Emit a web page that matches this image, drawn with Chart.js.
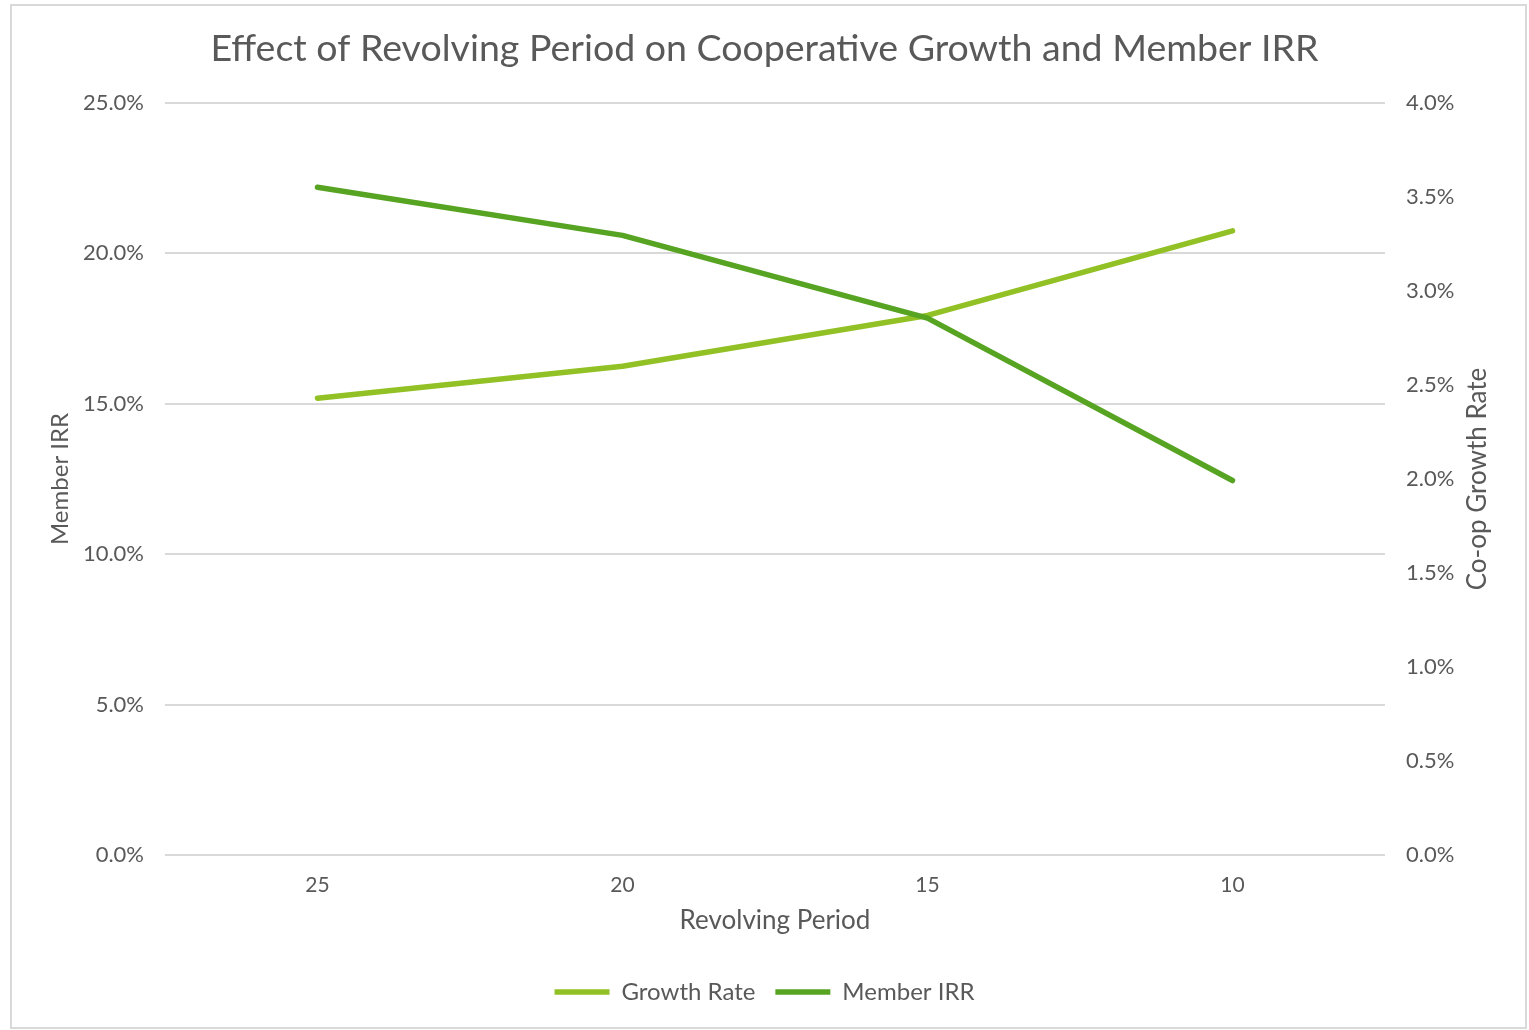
<!DOCTYPE html>
<html>
<head>
<meta charset="utf-8">
<script src="https://cdn.jsdelivr.net/npm/chart.js@4.4.0/dist/chart.umd.min.js"></script>
<style>
    html, body { margin: 0; padding: 0; background: #ffffff; }
    #wrap { width: 1529px; height: 1030px; }
</style>
</head>
<body>
<div id="wrap"><canvas id="chart" width="1529" height="1030"></canvas></div>
<script>
const periods = ['25', '20', '15', '10'];
const growthRate = [2.43, 2.60, 2.87, 3.32];
const memberIrr = [22.2, 20.6, 17.85, 12.45];

const textColor = '#595959';
const fontFamily = 'Lato, "Open Sans", sans-serif';

// frame round the chart + right axis title (reads bottom to top like the left one)
const framePlugin = {
    id: 'frame',
    beforeDraw(chart) {
        const ctx = chart.ctx;
        ctx.save();
        ctx.fillStyle = '#ffffff';
        ctx.fillRect(0, 0, chart.width, chart.height);
        ctx.strokeStyle = '#d9d9d9';
        ctx.lineWidth = 2;
        ctx.strokeRect(11, 5, 1515, 1023);
        ctx.restore();
    },
    afterDraw(chart) {
        const ctx = chart.ctx;
        const area = chart.chartArea;
        ctx.save();
        ctx.translate(1478, (area.top + area.bottom) / 2);
        ctx.rotate(-Math.PI / 2);
        ctx.fillStyle = textColor;
        ctx.font = '26px ' + fontFamily;
        ctx.textAlign = 'center';
        ctx.textBaseline = 'middle';
        ctx.fillText('Co-op Growth Rate', 0, 0);
        ctx.restore();
    }
};

const ctx = document.getElementById('chart').getContext('2d');
new Chart(ctx, {
    type: 'line',
    data: {
        labels: periods,
        datasets: [
            {
                label: 'Growth Rate',
                data: growthRate,
                yAxisID: 'y1',
                borderColor: '#92c125',
                backgroundColor: '#92c125',
                borderWidth: 5.5,
                borderCapStyle: 'round',
                borderJoinStyle: 'round',
                pointRadius: 0,
                tension: 0,
                order: 1
            },
            {
                label: 'Member IRR',
                data: memberIrr,
                yAxisID: 'y',
                borderColor: '#57a322',
                backgroundColor: '#57a322',
                borderWidth: 5.5,
                borderCapStyle: 'round',
                borderJoinStyle: 'round',
                pointRadius: 0,
                tension: 0,
                order: 0
            }
        ]
    },
    options: {
        responsive: false,
        animation: false,
        layout: {
            padding: { left: 0, right: 0, top: 0, bottom: 16 }
        },
        plugins: {
            title: {
                display: true,
                text: 'Effect of Revolving Period on Cooperative Growth and Member IRR',
                color: textColor,
                font: { family: fontFamily, size: 37.5, weight: 'normal' },
                padding: { top: 26, bottom: 32 }
            },
            legend: {
                display: true,
                position: 'bottom',
                labels: {
                    color: textColor,
                    font: { family: fontFamily, size: 24 },
                    usePointStyle: true,
                    pointStyle: 'line',
                    pointStyleWidth: 55,
                    boxHeight: 24,
                    padding: 20,
                    sort: (a, b) => a.datasetIndex - b.datasetIndex
                }
            },
            tooltip: { enabled: false }
        },
        scales: {
            x: {
                offset: true,
                grid: { display: false, drawTicks: false },
                border: { display: false },
                ticks: {
                    color: textColor,
                    font: { family: fontFamily, size: 21 },
                    padding: 18
                },
                title: {
                    display: true,
                    text: 'Revolving Period',
                    color: textColor,
                    font: { family: fontFamily, size: 26 },
                    padding: { top: 6, bottom: 24 }
                },
                afterFit: scale => { scale.height = 105; }
            },
            y: {
                position: 'left',
                min: 0,
                max: 25,
                grid: { color: '#d9d9d9', lineWidth: 2, drawTicks: false },
                border: { display: false },
                ticks: {
                    stepSize: 5,
                    color: textColor,
                    font: { family: fontFamily, size: 22 },
                    padding: 21,
                    callback: v => v.toFixed(1) + '%'
                },
                title: {
                    display: true,
                    text: 'Member IRR',
                    color: textColor,
                    font: { family: fontFamily, size: 24 },
                    padding: { top: 46, bottom: 0 }
                },
                afterFit: scale => { scale.width = 165; }
            },
            y1: {
                position: 'right',
                min: 0,
                max: 4,
                grid: { display: false, drawTicks: false },
                border: { display: false },
                ticks: {
                    stepSize: 0.5,
                    color: textColor,
                    font: { family: fontFamily, size: 22 },
                    padding: 21,
                    callback: v => v.toFixed(1) + '%'
                },
                afterFit: scale => { scale.width = 144; }
            }
        }
    },
    plugins: [framePlugin]
});
</script>
</body>
</html>
